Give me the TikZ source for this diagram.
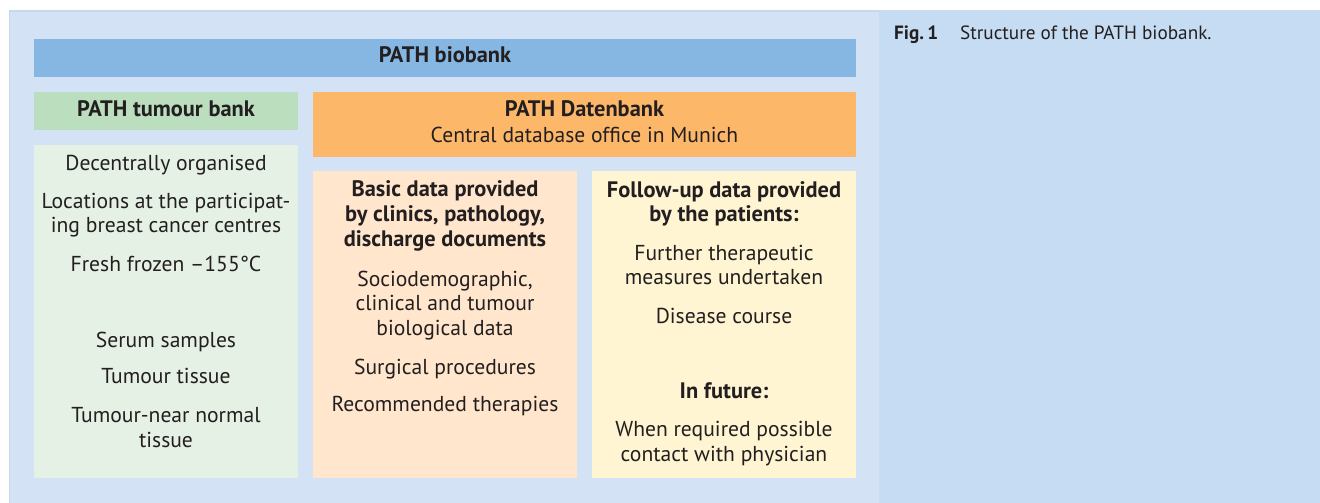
\documentclass[tikz,border=0pt]{standalone}
\usepackage{fontspec}
\setmainfont{PT Sans}
\definecolor{bgleft}{HTML}{D3E3F5}
\definecolor{bgright}{HTML}{C5DCF2}
\definecolor{bgedge}{HTML}{C4D8EF}
\definecolor{barblue}{HTML}{86B7E3}
\definecolor{hdgreen}{HTML}{BBDFBE}
\definecolor{hdorange}{HTML}{FDB769}
\definecolor{lgreen}{HTML}{E5F1E4}
\definecolor{lorange}{HTML}{FFE6CC}
\definecolor{lyellow}{HTML}{FFF5D3}
\definecolor{ink}{HTML}{231F20}
\begin{document}
\begin{tikzpicture}[x=1pt,y=-1pt,
  txt/.style={anchor=base,inner sep=0pt,text=ink,font=\fontsize{21.6}{24}\selectfont},
  btxt/.style={txt,font=\fontsize{22.4}{24}\selectfont\bfseries},
  captiontxt/.style={anchor=base west,inner sep=0pt,text=ink,font=\fontsize{19.2}{21}\selectfont}]
\useasboundingbox (0,0) rectangle (1320,503);
\fill[white] (0,0) rectangle (1320,503);
\fill[bgleft] (9,10.5) rectangle (879,503);
\fill[bgright] (879,10.5) rectangle (1320,503);
\draw[bgedge,line width=1.2pt] (9.6,503) -- (9.6,11.1) -- (879,11.1);
% boxes
\fill[barblue] (34,39) rectangle (856,77);
\fill[hdgreen] (34,92) rectangle (298,130);
\fill[hdorange] (313,92) rectangle (856,157);
\fill[lgreen] (34,145) rectangle (298,478);
\fill[lorange] (313,171) rectangle (577,478);
\fill[lyellow] (592,171) rectangle (856,478);
% header texts
\node[btxt] (biobank) at (445,63) {PATH biobank};
\node[btxt] (tumourbank) at (166,117) {PATH tumour bank};
\node[btxt] (datenbank) at (584.5,117) {PATH Datenbank};
\node[txt] (munich) at (584.5,142) {Central database office in Munich};
% green column
\node[txt] (g1) at (166,170) {Decentrally organised};
\node[txt] (g2) at (166,208) {Locations at the participat-};
\node[txt] (g3) at (166,232) {ing breast cancer centres};
\node[txt] (g4) at (166,271) {Fresh frozen –155°C};
\node[txt] (g5) at (166,347) {Serum samples};
\node[txt] (g6) at (166,383) {Tumour tissue};
\node[txt] (g7) at (166,422) {Tumour-near normal};
\node[txt] (g8) at (166,447) {tissue};
% orange column
\node[btxt] (o1) at (445,196) {Basic data provided};
\node[btxt] (o2) at (445,221) {by clinics, pathology,};
\node[btxt] (o3) at (445,246) {discharge documents};
\node[txt] (o4) at (445,286) {Sociodemographic,};
\node[txt] (o5) at (445,310) {clinical and tumour};
\node[txt] (o6) at (445,335) {biological data};
\node[txt] (o7) at (445,374) {Surgical procedures};
\node[txt] (o8) at (445,411) {Recommended therapies};
% yellow column
\node[btxt] (y1) at (724,197) {Follow-up data provided};
\node[btxt] (y2) at (724,221) {by the patients:};
\node[txt] (y3) at (724,260) {Further therapeutic};
\node[txt] (y4) at (724,284) {measures undertaken};
\node[txt] (y5) at (724,323) {Disease course};
\node[btxt] (y6) at (724,398) {In future:};
\node[txt] (y7) at (724,436) {When required possible};
\node[txt] (y8) at (724,461) {contact with physician};
% caption
\node[captiontxt,font=\fontsize{19.2}{21}\selectfont\bfseries] (fig) at (894,40) {Fig.\,1};
\node[captiontxt] (captxt) at (960,40) {Structure of the PATH biobank.};
\end{tikzpicture}
\end{document}
